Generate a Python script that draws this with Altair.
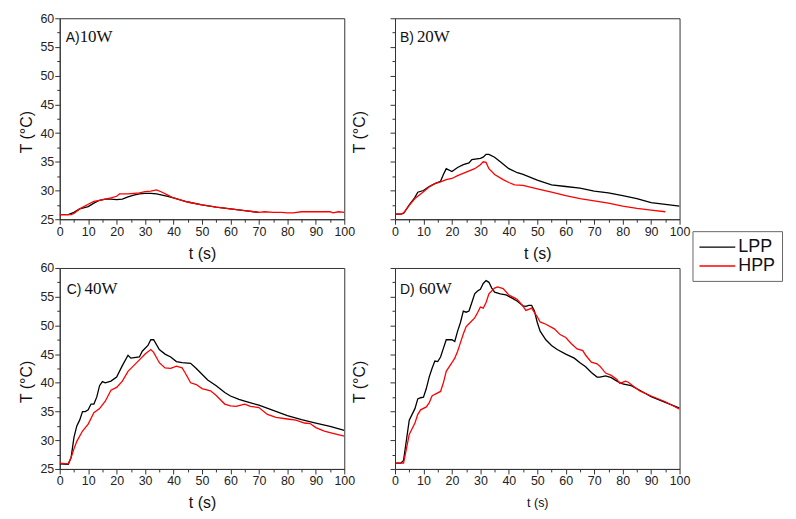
import altair as alt
import pandas as pd

# ---------------- data ----------------
tA_L = [0, 3, 5, 7, 10, 12, 14, 16, 18, 20, 22, 24, 26, 28, 30, 32, 34, 36, 38, 40, 45, 50, 55, 60, 65, 70]
TA_L = [25.8, 25.8, 26.2, 26.8, 27.2, 27.8, 28.3, 28.5, 28.5, 28.4, 28.5, 28.9, 29.2, 29.4, 29.5, 29.5, 29.4, 29.2, 29.0, 28.7, 28.0, 27.5, 27.1, 26.8, 26.5, 26.2]
tA_H = [0, 4, 5, 7, 10, 12, 14, 16, 18, 20, 21, 24, 26, 28, 30, 32, 34, 36, 38, 40, 45, 50, 55, 60, 65, 70, 72, 75, 78, 80, 82, 85, 90, 95, 96, 98, 100]
TA_H = [25.8, 25.8, 26.0, 26.8, 27.6, 28.1, 28.3, 28.5, 28.7, 29.0, 29.4, 29.4, 29.5, 29.6, 29.8, 29.9, 30.1, 29.7, 29.2, 28.7, 28.0, 27.5, 27.1, 26.8, 26.5, 26.2, 26.3, 26.2, 26.2, 26.1, 26.1, 26.3, 26.3, 26.3, 26.1, 26.3, 26.2]

tB_L = [0, 2, 3, 5, 7, 8, 10, 12, 14, 16, 17, 18, 20, 22, 24, 26, 27, 30, 31, 32, 33, 35, 37, 40, 43, 45, 50, 55, 60, 65, 70, 75, 80, 85, 90, 95, 100]
TB_L = [25.9, 25.9, 26.0, 27.5, 28.8, 29.7, 30.0, 30.7, 31.2, 31.6, 32.8, 33.8, 33.3, 34.0, 34.5, 34.8, 35.4, 35.6, 35.8, 36.3, 36.3, 35.8, 35.0, 33.8, 33.1, 32.8, 31.8, 31.0, 30.7, 30.4, 29.9, 29.6, 29.1, 28.6, 27.9, 27.6, 27.3]
tB_H = [0, 2, 3, 5, 7, 10, 12, 14, 16, 18, 20, 22, 25, 28, 30, 31, 32, 33, 35, 38, 40, 42, 45, 50, 55, 60, 65, 70, 75, 80, 85, 90, 95]
TB_H = [25.9, 25.9, 26.1, 27.4, 28.6, 29.8, 30.6, 31.2, 31.5, 31.9, 32.1, 32.6, 33.2, 33.8, 34.5, 35.0, 34.9, 33.8, 32.8, 31.9, 31.4, 31.0, 30.9, 30.3, 29.7, 29.1, 28.6, 28.2, 27.8, 27.3, 26.9, 26.6, 26.3]

tC_L = [0, 3, 4, 5, 6, 7, 8, 9, 10, 11, 12, 13, 14, 15, 16, 18, 20, 22, 24, 25, 28, 29, 31, 32, 33, 35, 37, 39, 41, 43, 46, 48, 50, 52, 55, 58, 60, 63, 65, 70, 75, 80, 85, 90, 95, 100]
TC_L = [25.9, 25.8, 27.0, 30.5, 32.5, 33.5, 35.0, 35.0, 35.3, 36.3, 36.3, 37.5, 39.5, 40.2, 40.0, 40.3, 41.0, 43.0, 44.8, 44.3, 44.5, 45.5, 46.5, 47.5, 47.5, 45.8, 45.0, 44.5, 43.7, 43.5, 43.4, 42.5, 41.5, 40.5, 39.5, 38.3, 37.7, 37.1, 36.8, 36.1, 35.2, 34.3, 33.6, 33.0, 32.4, 31.7]
tC_H = [0, 3, 4, 5, 6, 8, 10, 12, 14, 16, 18, 20, 22, 24, 26, 28, 30, 32, 33, 35, 37, 39, 41, 43, 44, 46, 48, 50, 53, 55, 58, 60, 62, 65, 67, 70, 73, 76, 80, 83, 86, 88, 90, 93, 96, 100]
TC_H = [26.0, 25.9, 27.0, 28.5, 29.8, 31.6, 32.8, 34.8, 35.5, 36.8, 38.7, 39.2, 40.3, 42.0, 43.0, 44.0, 45.0, 45.8, 45.3, 43.5, 42.6, 42.5, 42.9, 42.6, 41.8, 40.0, 39.7, 39.0, 38.6, 37.8, 36.3, 36.0, 35.9, 36.3, 35.9, 35.7, 34.5, 34.0, 33.7, 33.5, 33.0, 32.9, 32.2, 31.6, 31.2, 30.7]

tD_L = [0, 2, 3, 4, 5, 6, 7, 8, 9, 10, 11, 12, 13, 14, 15, 16, 17, 18, 20, 21, 22, 23, 24, 25, 26, 27, 28, 29, 30, 31, 32, 33, 34, 35, 37, 39, 41, 43, 45, 46, 47, 48, 49, 50, 51, 53, 55, 57, 60, 63, 65, 67, 69, 71, 72, 74, 76, 78, 80, 83, 86, 90, 95, 100]
TD_L = [26.0, 26.0, 26.5, 30.0, 33.5, 34.5, 35.5, 37.2, 37.4, 37.5, 39.0, 41.0, 42.5, 43.8, 43.7, 44.5, 46.0, 47.5, 47.5, 47.2, 49.0, 50.5, 52.5, 52.3, 52.5, 54.0, 55.5, 56.0, 56.3, 57.3, 57.8, 57.5, 56.5, 55.8, 55.5, 55.3, 54.8, 54.2, 53.4, 53.3, 53.5, 53.5, 52.5, 50.5, 49.0, 47.5, 46.5, 45.8, 45.0, 44.3, 43.5, 42.8, 41.8, 41.0, 41.0, 41.2, 40.9, 40.3, 39.8, 39.5, 38.7, 37.6, 36.6, 35.6]
tD_H = [0, 3, 4, 5, 6, 7, 8, 9, 11, 12, 13, 14, 16, 17, 18, 20, 21, 22, 23, 24, 25, 26, 28, 29, 30, 31, 32, 33, 35, 36, 38, 40, 42, 43, 45, 46, 47, 48, 50, 51, 53, 56, 58, 60, 62, 64, 66, 67, 69, 71, 72, 74, 76, 78, 79, 81, 82, 84, 86, 90, 95, 100]
TD_H = [26.0, 26.0, 28.5, 31.0, 32.0, 33.0, 34.5, 35.3, 35.8, 36.5, 37.7, 38.0, 38.5, 40.0, 42.0, 43.5, 44.3, 45.5, 47.0, 48.5, 49.8, 50.3, 51.3, 52.2, 53.2, 53.0, 54.0, 55.5, 56.5, 56.7, 56.4, 55.3, 54.8, 54.5, 53.3, 52.6, 52.8, 53.0, 51.5, 50.6, 50.2, 49.4, 48.4, 47.9, 46.8, 45.9, 45.6, 44.8, 43.6, 43.3, 42.9, 41.7, 41.3, 40.6, 39.9, 40.3, 40.1, 39.3, 38.6, 37.7, 36.7, 35.4]

series_names = ["LPP", "HPP"]
series_colors = ["#000000", "#ff0000"]
panel_letters = ["A)", "B)", "C)", "D)"]
panel_powers = ["10W", "20W", "40W", "60W"]

x_ticks = list(range(0, 101, 5))
y_ticks = [25 + 2.5 * i for i in range(15)]

raw = {
    "A": [(tA_L, TA_L), (tA_H, TA_H)],
    "B": [(tB_L, TB_L), (tB_H, TB_H)],
    "C": [(tC_L, TC_L), (tC_H, TC_H)],
    "D": [(tD_L, TD_L), (tD_H, TD_H)],
}

SANS = "Liberation Sans"
SERIF = "Liberation Serif"
color_scale = alt.Scale(domain=series_names, range=series_colors)


def panel(key, idx, show_ylabels, ytitle_x, xtitle_size, let_x, pow_x, lab_y):
    frames = []
    for s, (ts, Ts) in zip(series_names, raw[key]):
        frames.append(pd.DataFrame({"t": ts, "T": Ts, "series": s}))
    x_enc = alt.X(
        "t:Q",
        scale=alt.Scale(domain=[0, 100], nice=False, zero=False),
        axis=alt.Axis(
            values=x_ticks,
            labelExpr="datum.value % 10 === 0 ? datum.label : ''",
            tickSize={"condition": {"test": "datum.value % 10 === 0", "value": 5}, "value": 3},
            title="t (s)",
            titleFontSize=xtitle_size,
            titleFontWeight="normal",
            titleBaseline="middle",
            titleY=34,
            labelFontSize=12.5,
            labelPadding=1,
            labelFlush=False,
            labelOverlap=False,
        ),
    )
    y_enc = alt.Y(
        "T:Q",
        scale=alt.Scale(domain=[25, 60], nice=False, zero=False),
        axis=alt.Axis(
            values=y_ticks,
            labels=show_ylabels,
            labelExpr="datum.value % 5 === 0 ? datum.label : ''",
            tickSize={"condition": {"test": "datum.value % 5 === 0", "value": 5}, "value": 3},
            title="T (°C)",
            titleFontSize=16,
            titleFontWeight="normal",
            titleBaseline="middle",
            titleX=ytitle_x,
            titleY=114,
            labelFontSize=12.5,
            labelPadding=1,
            labelFlush=False,
            labelOverlap=False,
        ),
    )
    col = alt.Color(
        "series:N",
        scale=color_scale,
        title=None,
        legend=alt.Legend(
            orient="none",
            legendX=636,
            legendY=214,
            symbolType="M-1,0H3",
            symbolSize=324,
            symbolStrokeWidth=1.4,
            labelFontSize=18,
            labelFont=SANS,
            labelColor="#111",
            labelOffset=20,
            padding=6,
            rowPadding=0,
            strokeColor="#666",
            fillColor="white",
        ),
    )
    layers = []
    for f in frames:
        layers.append(
            alt.Chart(f).mark_line(strokeWidth=1.3, clip=True).encode(x=x_enc, y=y_enc, color=col)
        )
    lab = pd.DataFrame({"letter": [panel_letters[idx]], "power": [panel_powers[idx]]})
    layers.append(
        alt.Chart(lab).mark_text(align="left", baseline="alphabetic", font=SANS, fontSize=14, color="#111").encode(
            x=alt.value(let_x), y=alt.value(lab_y), text="letter:N")
    )
    layers.append(
        alt.Chart(lab).mark_text(align="left", baseline="alphabetic", font=SERIF, fontSize=17, color="#111").encode(
            x=alt.value(pow_x), y=alt.value(lab_y), text="power:N")
    )
    return alt.layer(*layers).properties(width=286, height=202)


pA = panel("A", 0, True, -33, 16, 6, 20, 24)
pB = panel("B", 1, False, -36, 16, 5, 22, 24)
pC = panel("C", 2, True, -33, 16, 7, 25, 26)
pD = panel("D", 3, False, -36, 12.5, 5, 24, 26)

chart = alt.concat(pA, pB, pC, pD, columns=2, spacing={"row": 49, "column": 51}, bounds="flush").properties(
    padding={"left": 10, "top": 2, "right": 5, "bottom": 5},
    background="white",
).configure_view(
    stroke="#333", strokeWidth=1
).configure_axis(
    grid=False,
    domainColor="#333",
    tickColor="#333",
    labelColor="#222",
    titleColor="#111",
    labelFont=SANS,
    titleFont=SANS,
)

chart.save("out.html", embed_options={"renderer": "svg", "actions": False})
